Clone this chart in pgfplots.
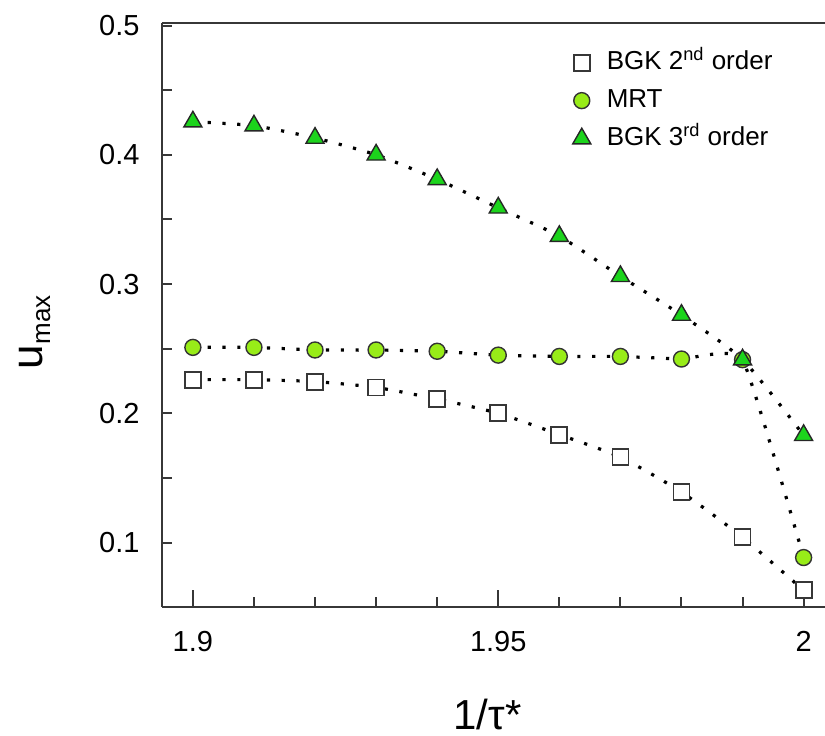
\documentclass[border=0pt]{standalone}
\usepackage{fontspec}
\setmainfont{Liberation Sans}
\usepackage{pgfplots}
\pgfplotsset{compat=1.18}
\usetikzlibrary{calc}
\definecolor{axgray}{RGB}{55,55,55}
\definecolor{mrtgreen}{RGB}{152,236,24}
\definecolor{bgkgreen}{RGB}{28,212,28}

\pgfplotstableread{
x     bgktwo  mrt     bgkthree
1.90  0.226   0.251   0.4256
1.91  0.226   0.251   0.4225
1.92  0.2245  0.249   0.413
1.93  0.220   0.249   0.400
1.94  0.211   0.248   0.381
1.95  0.200   0.245   0.359
1.96  0.1835  0.244   0.337
1.97  0.166   0.244   0.306
1.98  0.139   0.242   0.276
1.99  0.104   0.2415  0.2415
2.00  0.063   0.0884  0.183
}\umaxdata

\begin{document}
\begin{tikzpicture}
\begin{axis}[
  name=ax,
  scale only axis,
  width=331.7pt, height=291.9pt,
  xmin=1.89493, xmax=2.0035,
  ymin=0.0505, ymax=0.502,
  axis lines*=left,
  axis line style={axgray, line width=1pt},
  tick align=inside,
  tick style={axgray, line width=1pt},
  major tick length=8.5pt,
  minor tick length=5pt,
  xtick={1.9,1.95,2},
  minor x tick num=4,
  ytick={0.1,0.2,0.3,0.4,0.5},
  major y tick style={draw=none},
  minor ytick={0.1,0.15,0.2,0.25,0.3,0.35,0.4,0.45,0.5},
  /pgf/number format/assume math mode=true,
  tick label style={font=\fontsize{14.5}{14.5}\selectfont},
  xticklabel style={anchor=base, yshift=-22.5pt},
  yticklabel style={anchor=east, inner sep=0pt, xshift=-11pt},
  xlabel={1/τ*},
  xlabel style={font=\fontsize{21}{21}\selectfont, at={(axis description cs:0.491,-0.2106)}, anchor=base},
  ylabel={u\raisebox{-4pt}{\fontsize{13}{13}\selectfont max}},
  ylabel style={font=\fontsize{22}{22}\selectfont, at={(axis description cs:-0.192,0.470)}, anchor=center, rotate=0},
  legend style={draw=none, fill=none, inner sep=0pt,
    font=\fontsize{13}{13}\selectfont,
    at={(axis description cs:0.619,0.955)}, anchor=north west,
    row sep=6pt,
    nodes={inner xsep=2pt, inner ysep=0pt, text height=10pt, text depth=3pt},
    /tikz/every odd column/.append style={column sep=6pt}},
  legend cell align=left,
  clip=false,
]
\draw[axgray, line width=1pt] (rel axis cs:0,1) -- (rel axis cs:1,1);
% dotted guide curves
\addplot[forget plot, black, line width=1.6pt, line cap=butt, dash pattern=on 1.6pt off 5.8pt, smooth, tension=0.4]
  table[x=x, y=bgktwo] {\umaxdata};
\addplot[forget plot, black, line width=1.6pt, line cap=butt, dash pattern=on 1.6pt off 5.8pt, smooth, tension=0.25]
  table[x=x, y=mrt] {\umaxdata};
\addplot[forget plot, black, line width=1.6pt, line cap=butt, dash pattern=on 1.6pt off 5.8pt, smooth, tension=0.4]
  table[x=x, y=bgkthree] {\umaxdata};
% markers
\addplot[only marks, mark=square*, mark size=4pt, mark options={draw=axgray, fill=white, line width=0.9pt}]
  table[x=x, y=bgktwo] {\umaxdata};
\addlegendentry{BGK 2\textsuperscript{nd} order}
\addplot[only marks, mark=*, mark size=4pt, mark options={draw=black!80, fill=mrtgreen, line width=0.7pt}]
  table[x=x, y=mrt] {\umaxdata};
\addlegendentry{MRT}
\addplot[only marks, mark=triangle*, mark size=5.2pt, mark options={draw=black!85, fill=bgkgreen, line width=0.7pt}]
  table[x=x, y=bgkthree] {\umaxdata};
\addlegendentry{BGK 3\textsuperscript{rd} order}
\end{axis}
\pgfresetboundingbox
\path ($(ax.south west)+(-81pt,-64.5pt)$) rectangle ($(ax.north east)+(0pt,11.5pt)$);
\end{tikzpicture}
\end{document}
